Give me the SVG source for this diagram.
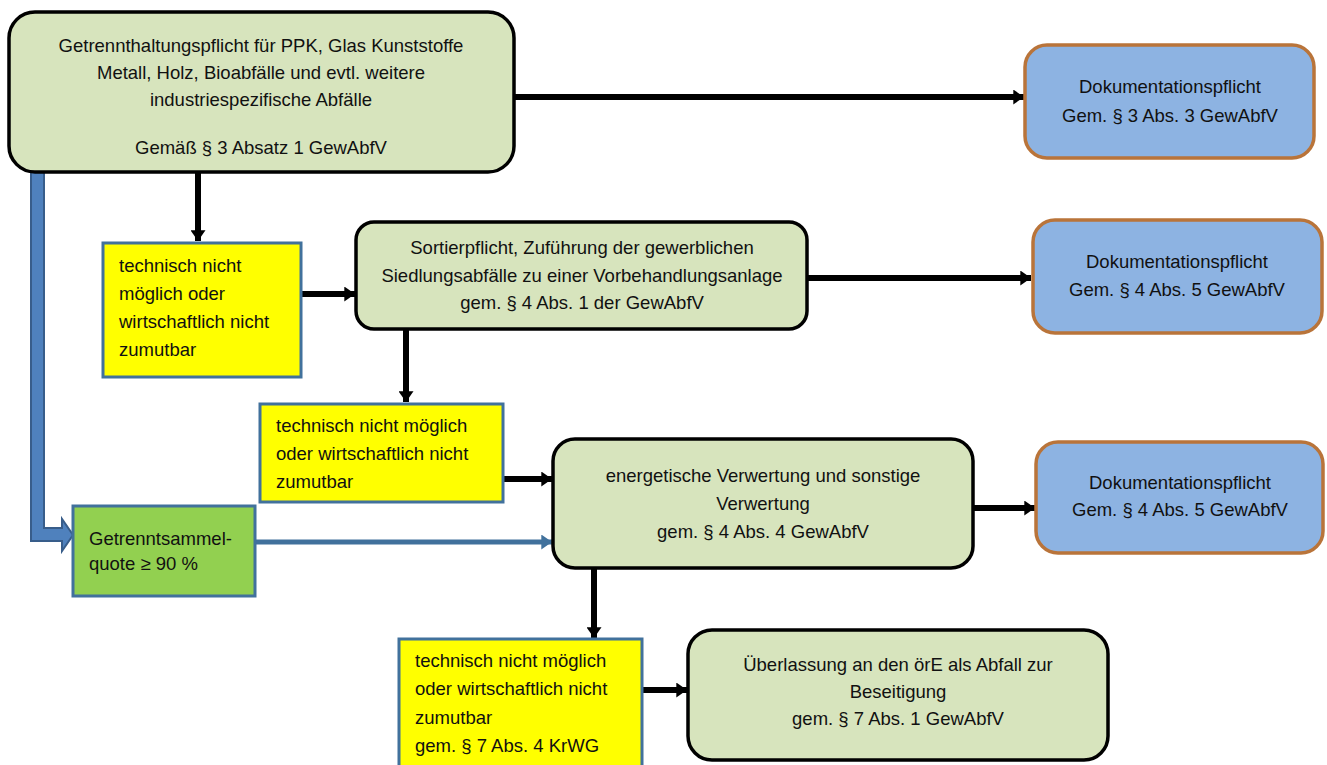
<svg xmlns="http://www.w3.org/2000/svg" width="1327" height="765" viewBox="0 0 1327 765">
  <style>
    .step { fill: #d7e4bd; stroke: #000; stroke-width: 3.5; }
    .doc { fill: #8db3e2; stroke: #b9743a; stroke-width: 3.5; }
    .cond { fill: #ffff00; stroke: #41719c; stroke-width: 3; }
    .quota { fill: #92d050; stroke: #41719c; stroke-width: 3; }
    text { font-family: "Liberation Sans", Arial, sans-serif; font-size: 18.5px; fill: #111; }
    .c { text-anchor: middle; }
    .flow { stroke: #000; stroke-width: 6; fill: none; marker-end: url(#head); }
    .bflow { stroke: #41719c; stroke-width: 5; fill: none; marker-end: url(#bhead); }
  </style>
  <defs>
    <marker id="head" viewBox="0 0 10 14" refX="10" refY="7" markerWidth="11" markerHeight="15" markerUnits="userSpaceOnUse" orient="auto">
      <path d="M0,0 L10,7 L0,14 Z" fill="#000"/>
    </marker>
    <marker id="bhead" viewBox="0 0 10 14" refX="10" refY="7" markerWidth="11" markerHeight="15" markerUnits="userSpaceOnUse" orient="auto">
      <path d="M0,0 L10,7 L0,14 Z" fill="#41719c"/>
    </marker>
  </defs>
  <rect width="1327" height="765" fill="#fff"/>

  <g id="connectors">
    <line class="flow" x1="514" y1="97" x2="1024" y2="97"/>
    <line class="flow" x1="198" y1="172" x2="198" y2="241"/>
    <line class="flow" x1="301" y1="294" x2="355" y2="294"/>
    <line class="flow" x1="807" y1="278" x2="1031" y2="278"/>
    <line class="flow" x1="406" y1="330" x2="406" y2="402"/>
    <line class="flow" x1="503" y1="479" x2="552" y2="479"/>
    <line class="flow" x1="973" y1="508" x2="1035" y2="508"/>
    <line class="flow" x1="594" y1="568" x2="594" y2="638"/>
    <line class="flow" x1="642" y1="690" x2="687" y2="690"/>
    <line class="bflow" x1="255" y1="542" x2="552" y2="542"/>
    <!-- wide bent block arrow down the left side -->
    <path d="M31,172 L44,172 L44,528 L62,528 L62,519 L73,535 L62,551 L62,541 L31,541 Z" fill="#4f81bd" stroke="#385d8a" stroke-width="2"/>
  </g>

  <g id="separation">
    <rect class="step" x="9" y="12" width="505" height="160" rx="26"/>
    <text class="c" x="261" y="52">Getrennthaltungspflicht für PPK, Glas Kunststoffe</text>
    <text class="c" x="261" y="79">Metall, Holz, Bioabfälle und evtl. weitere</text>
    <text class="c" x="261" y="106">industriespezifische Abfälle</text>
    <text class="c" x="261" y="154">Gemäß § 3 Absatz 1 GewAbfV</text>
  </g>

  <g id="doc1">
    <rect class="doc" x="1025" y="45" width="289" height="113" rx="22"/>
    <text class="c" x="1170" y="93">Dokumentationspflicht</text>
    <text class="c" x="1170" y="122">Gem. § 3 Abs. 3 GewAbfV</text>
  </g>

  <g id="cond1">
    <rect class="cond" x="103" y="243" width="198" height="134"/>
    <text x="119" y="272">technisch nicht</text>
    <text x="119" y="300">möglich oder</text>
    <text x="119" y="328">wirtschaftlich nicht</text>
    <text x="119" y="356">zumutbar</text>
  </g>

  <g id="sorting">
    <rect class="step" x="356" y="222" width="451" height="107" rx="18"/>
    <text class="c" x="582" y="254">Sortierpflicht, Zuführung der gewerblichen</text>
    <text class="c" x="582" y="282">Siedlungsabfälle zu einer Vorbehandlungsanlage</text>
    <text class="c" x="582" y="309">gem. § 4 Abs. 1 der GewAbfV</text>
  </g>

  <g id="doc2">
    <rect class="doc" x="1033" y="220" width="289" height="113" rx="22"/>
    <text class="c" x="1177" y="268">Dokumentationspflicht</text>
    <text class="c" x="1177" y="296">Gem. § 4 Abs. 5 GewAbfV</text>
  </g>

  <g id="cond2">
    <rect class="cond" x="260" y="404" width="243" height="98"/>
    <text x="276" y="432">technisch nicht möglich</text>
    <text x="276" y="460">oder wirtschaftlich nicht</text>
    <text x="276" y="488">zumutbar</text>
  </g>

  <g id="recovery">
    <rect class="step" x="553" y="439" width="420" height="129" rx="22"/>
    <text class="c" x="763" y="482">energetische Verwertung und sonstige</text>
    <text class="c" x="763" y="510">Verwertung</text>
    <text class="c" x="763" y="538">gem. § 4 Abs. 4 GewAbfV</text>
  </g>

  <g id="doc3">
    <rect class="doc" x="1036" y="442" width="287" height="111" rx="22"/>
    <text class="c" x="1180" y="489">Dokumentationspflicht</text>
    <text class="c" x="1180" y="516">Gem. § 4 Abs. 5 GewAbfV</text>
  </g>

  <g id="quota">
    <rect class="quota" x="73" y="506" width="182" height="90"/>
    <text x="89" y="545">Getrenntsammel-</text>
    <text x="89" y="570">quote ≥ 90 %</text>
  </g>

  <g id="cond3">
    <rect class="cond" x="399" y="639" width="243" height="140"/>
    <text x="415" y="667">technisch nicht möglich</text>
    <text x="415" y="695">oder wirtschaftlich nicht</text>
    <text x="415" y="724">zumutbar</text>
    <text x="415" y="752">gem. § 7 Abs. 4 KrWG</text>
  </g>

  <g id="disposal">
    <rect class="step" x="688" y="630" width="420" height="130" rx="24"/>
    <text class="c" x="898" y="671">Überlassung an den örE als Abfall zur</text>
    <text class="c" x="898" y="698">Beseitigung</text>
    <text class="c" x="898" y="725">gem. § 7 Abs. 1 GewAbfV</text>
  </g>
</svg>
